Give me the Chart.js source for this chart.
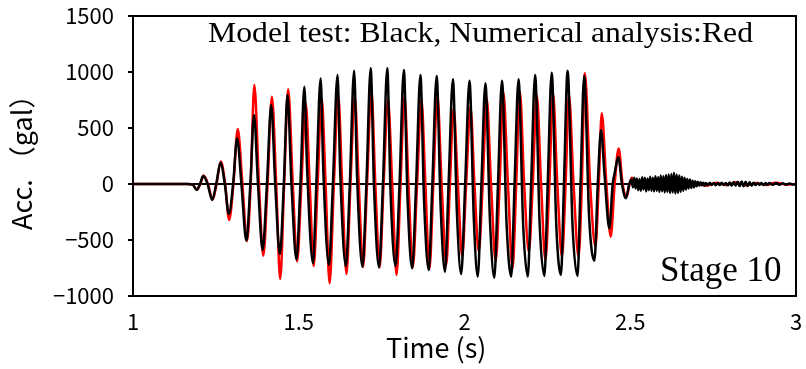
<!DOCTYPE html>
<html><head><meta charset="utf-8">
<script src="https://cdn.jsdelivr.net/npm/chart.js@4.4.0/dist/chart.umd.min.js"></script>
<style>html,body{margin:0;padding:0;background:#fff;} canvas{display:block;}</style>
</head><body>
<canvas id="c" width="806" height="369"></canvas>
<script>
const titleText = 'Model test: Black, Numerical analysis:Red';
const stageText = 'Stage 10';
const xTitle = 'Time (s)';
const yTitle = 'Acc. （gal）';
const xTicks = [1, 1.5, 2, 2.5, 3];
const yTicks = [-1000, -500, 0, 500, 1000, 1500];

// Model test (black): [time s, acceleration gal]
const blackPoints = [
 [1.000,0],[1.165,0],[1.180,-5],[1.192,-54],[1.202,0],[1.212,71],[1.225,0],[1.239,-143],[1.251,0],[1.264,190],[1.277,0],
 [1.289,-268],[1.302,0],[1.314,408],[1.327,0],[1.342,-506],[1.354,0],[1.365,616],[1.377,0],[1.391,-589],[1.404,0],
 [1.417,705],[1.429,0],[1.443,-625],[1.455,0],[1.466,795],[1.478,0],[1.493,-673],[1.505,0],
 [1.517,869],[1.525,150],[1.543,-708],[1.553,0],
 [1.566,943],[1.574,130],[1.591,-723],[1.603,0],
 [1.617,973],[1.625,110],[1.642,-732],[1.654,0],
 [1.667,1012],[1.676,60],[1.692,-738],[1.704,0],
 [1.717,1033],[1.727,-20],[1.742,-744],[1.754,0],
 [1.767,1033],[1.777,-80],[1.792,-732],[1.804,0],
 [1.817,1018],[1.828,-120],[1.842,-753],[1.854,0],
 [1.867,973],[1.878,-150],[1.892,-768],[1.903,0],
 [1.916,964],[1.928,-200],[1.941,-783],[1.952,0],
 [1.965,935],[1.977,-250],[1.990,-804],[2.002,0],
 [2.015,922],[2.028,-300],[2.040,-827],[2.051,0],
 [2.063,899],[2.077,-340],[2.090,-836],[2.101,0],
 [2.113,922],[2.127,-360],[2.141,-827],[2.151,0],
 [2.163,935],[2.177,-370],[2.191,-827],[2.201,0],
 [2.213,973],[2.227,-380],[2.241,-821],[2.251,0],
 [2.263,994],[2.277,-380],[2.291,-812],[2.300,0],
 [2.311,1012],[2.326,-380],[2.341,-821],[2.350,0],
 [2.361,964],[2.376,-300],[2.392,-685],[2.402,0],
 [2.412,482],[2.422,100],[2.437,-396],[2.447,0],[2.453,95],[2.464,240],[2.475,0],[2.487,-128],[2.497,0],
 [2.504,40],[2.508,-30],[2.512,55],[2.516,-40],[2.520,50],[2.524,-55],[2.528,45],[2.532,-60],[2.536,60],[2.540,-50],
 [2.544,55],[2.548,-65],[2.552,50],[2.556,-55],[2.560,65],[2.564,-60],[2.568,55],[2.572,-65],[2.576,70],[2.580,-60],
 [2.584,60],[2.588,-70],[2.592,75],[2.596,-65],[2.600,70],[2.604,-75],[2.608,80],[2.612,-70],[2.616,85],[2.620,-80],
 [2.624,90],[2.628,-75],[2.632,100],[2.636,-85],[2.640,85],[2.644,-80],[2.648,75],[2.652,-70],[2.656,65],[2.660,-60],
 [2.664,55],[2.668,-50],[2.672,45],[2.676,-40],[2.680,40],[2.684,-35],[2.688,30],[2.692,-30],[2.696,25],[2.700,-20],
 [2.704,20],[2.708,-15],[2.712,15],[2.716,-12],[2.720,12],[2.724,-15],[2.728,10],[2.734,-10],[2.740,12],[2.746,-8],
 [2.752,10],[2.758,-12],[2.764,8],[2.770,-10],[2.776,12],[2.782,-8],[2.788,10],[2.794,-12],[2.800,14],[2.806,-15],
 [2.812,18],[2.818,-15],[2.824,20],[2.830,-18],[2.836,22],[2.842,-20],[2.848,20],[2.854,-18],[2.860,15],[2.866,-14],
 [2.872,12],[2.878,-10],[2.884,10],[2.890,-8],[2.896,8],[2.902,-10],[2.908,8],[2.914,-6],[2.920,8],[2.930,-6],
 [2.940,8],[2.950,-6],[2.960,6],[2.970,-6],[2.980,5],[2.990,-4],[3.000,0]
];

// Numerical analysis (red): [time s, acceleration gal]
const redPoints = [
 [1.000,0],[1.165,0],[1.180,-5],[1.193,-50],[1.203,0],[1.213,75],[1.226,0],[1.240,-140],[1.252,0],[1.265,200],[1.278,0],
 [1.290,-321],[1.303,0],[1.316,491],[1.330,0],[1.344,-510],[1.355,0],[1.366,884],[1.380,0],[1.393,-640],[1.406,0],
 [1.419,780],[1.432,0],[1.444,-848],[1.456,0],[1.468,845],[1.482,0],[1.495,-690],[1.508,0],
 [1.521,720],[1.533,0],[1.545,-732],[1.557,0],[1.569,765],[1.581,0],[1.593,-887],[1.606,0],
 [1.619,795],[1.631,0],[1.644,-804],[1.656,0],[1.669,780],[1.681,0],[1.694,-740],[1.706,0],
 [1.719,839],[1.731,0],[1.744,-745],[1.756,0],[1.769,750],[1.782,0],[1.795,-812],[1.807,0],
 [1.819,780],[1.831,0],[1.844,-745],[1.857,0],[1.870,750],[1.882,0],[1.894,-760],[1.906,0],
 [1.918,795],[1.931,0],[1.945,-720],[1.956,0],[1.967,676],[1.980,0],[1.993,-649],[2.005,0],
 [2.018,690],[2.030,0],[2.043,-604],[2.055,0],[2.067,765],[2.080,0],[2.094,-693],[2.106,0],
 [2.117,824],[2.131,0],[2.145,-753],[2.156,0],[2.167,824],[2.180,0],[2.194,-604],[2.206,0],
 [2.218,795],[2.231,0],[2.244,-679],[2.256,0],[2.267,810],[2.280,0],[2.294,-649],[2.305,0],
 [2.315,795],[2.329,0],[2.344,-649],[2.354,0],[2.363,988],[2.379,0],[2.395,-560],[2.405,0],
 [2.414,631],[2.428,0],[2.441,-470],[2.453,0],[2.465,318],[2.477,0],[2.489,-113],[2.498,0],
 [2.505,55],[2.513,0],[2.530,-15],[2.560,10],[2.600,-10],[2.640,12],[2.680,-8],[2.700,5],[2.730,-15],
 [2.760,12],[2.790,-10],[2.820,15],[2.850,-12],[2.880,10],[2.910,-8],[2.940,12],[2.970,-6],[3.000,0]
];

const toXY = arr => arr.map(p => ({x: p[0], y: p[1]}));
const tickFont = {family: "'Noto Sans CJK JP', sans-serif", size: 22};

const decor = {
  id: 'decor',
  afterDraw(chart) {
    const {ctx, chartArea: a} = chart;
    ctx.save();
    ctx.strokeStyle = '#000';
    ctx.lineWidth = 2;
    ctx.beginPath();
    ctx.moveTo(a.left - 1, a.top);
    ctx.lineTo(a.right, a.top);
    ctx.lineTo(a.right, a.bottom + 1);
    ctx.stroke();
    ctx.fillStyle = '#000';
    ctx.textAlign = 'left';
    ctx.textBaseline = 'alphabetic';
    ctx.font = '29px "Liberation Serif"';
    const w = ctx.measureText(titleText).width;
    ctx.save();
    ctx.translate(a.left + 75, a.top + 26);
    ctx.scale(545 / w, 1);
    ctx.fillText(titleText, 0, 0);
    ctx.restore();
    ctx.font = '35px "Liberation Serif"';
    ctx.fillText(stageText, a.left + 527, a.bottom - 15);
    ctx.font = '27px "Noto Sans CJK JP"';
    ctx.fillText(xTitle, 386, 358);
    ctx.save();
    ctx.translate(32, 230);
    ctx.rotate(-Math.PI / 2);
    ctx.fillText(yTitle, 0, 0);
    ctx.restore();
    ctx.restore();
  }
};

new Chart(document.getElementById('c'), {
  type: 'line',
  data: {
    datasets: [
      {label: 'Model test', data: toXY(blackPoints), borderColor: '#000', borderWidth: 2.5, pointRadius: 0,
       cubicInterpolationMode: 'monotone', order: 0},
      {label: 'Numerical analysis', data: toXY(redPoints), borderColor: '#ff0000', borderWidth: 2.5, pointRadius: 0,
       cubicInterpolationMode: 'monotone', order: 1}
    ]
  },
  options: {
    responsive: false,
    animation: false,
    events: [],
    layout: {padding: {left: 0, right: 10, top: 16, bottom: 0}},
    plugins: {legend: {display: false}, tooltip: {enabled: false}, title: {display: false}},
    scales: {
      x: {
        type: 'linear', min: 1, max: 3,
        afterBuildTicks: s => { s.ticks = xTicks.map(v => ({value: v})); },
        afterFit: s => { s.height = 73; s.paddingLeft = 0; s.paddingRight = 0; },
        grid: {display: false, drawTicks: false},
        border: {display: true, color: '#000', width: 2},
        ticks: {color: '#000', font: tickFont, padding: 12, maxRotation: 0, autoSkip: false,
                callback: v => String(v)}
      },
      y: {
        type: 'linear', min: -1000, max: 1500,
        afterBuildTicks: s => { s.ticks = yTicks.map(v => ({value: v})); },
        afterFit: s => { s.width = 133; s.paddingTop = 0; s.paddingBottom = 0; },
        grid: {
          drawOnChartArea: true,
          color: c => (c.tick && c.tick.value === 0) ? '#000' : 'rgba(0,0,0,0)',
          lineWidth: 2,
          tickColor: '#000', tickLength: 5, tickWidth: 2
        },
        border: {display: true, color: '#000', width: 2},
        ticks: {color: '#000', font: tickFont, padding: 14, autoSkip: false,
                callback: v => String(v).replace('-', '\u2212')}
      }
    }
  },
  plugins: [decor]
});
</script>
</body></html>
